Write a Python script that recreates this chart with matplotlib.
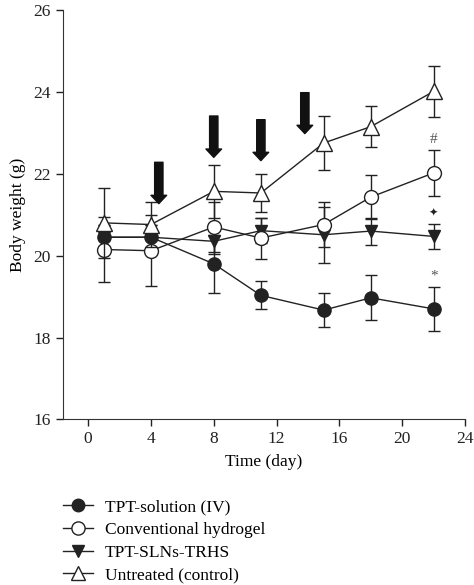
import numpy as np
import matplotlib
matplotlib.use('Agg')
import matplotlib.pyplot as plt
from matplotlib.lines import Line2D

plt.rcParams['font.family'] = ['Liberation Serif', 'DejaVu Serif']

# dias de medida
days = [1, 4, 8, 11, 15, 18, 22]

# TPT-solution (IV)
sol_mean = [20.45, 20.45, 19.80, 19.03, 18.67, 18.97, 18.70]
sol_sd = [0.30, 0.30, 0.71, 0.34, 0.41, 0.55, 0.54]
# Conventional hydrogel
gel_mean = [20.15, 20.12, 20.70, 20.43, 20.76, 21.43, 22.02]
gel_sd = [0.80, 0.87, 0.60, 0.50, 0.55, 0.53, 0.57]
# TPT-SLNs-TRHS
trhs_mean = [20.45, 20.45, 20.35, 20.61, 20.51, 20.60, 20.47]
trhs_sd = [0.30, 0.30, 0.30, 0.30, 0.68, 0.33, 0.30]
# Untreated (control)
ctrl_mean = [20.80, 20.76, 21.57, 21.53, 22.75, 23.15, 24.01]
ctrl_sd = [0.85, 0.56, 0.65, 0.47, 0.65, 0.50, 0.62]

labels = ['TPT-solution (IV)', 'Conventional hydrogel', 'TPT-SLNs-TRHS', 'Untreated (control)']

# setas de dosagem: (dia, topo, ponta)
arrows = [(4.5, 22.28, 21.27), (8.0, 23.41, 22.40), (11.0, 23.32, 22.32), (13.8, 23.98, 22.98)]

# marcas de significancia no dia 22
signif = [('#', 22.83), ('\u2726', 21.04), ('*', 19.50)]

fig = plt.figure(figsize=(4.74, 5.85), dpi=100)
ax = fig.add_axes([0.132, 0.283, 0.849, 0.700])

cor = '#222222'
# (media, sd, marcador, cor de preenchimento, tamanho, zorder, rotulo)
series = [
    (sol_mean, sol_sd, 'o', cor, 9.5, 2, labels[0]),
    (trhs_mean, trhs_sd, 'v', cor, 8.5, 3, labels[2]),
    (gel_mean, gel_sd, 'o', 'white', 10, 4, labels[1]),
    (ctrl_mean, ctrl_sd, '^', 'white', 11, 5, labels[3]),
]
handles = {}
for m, s, mk, fc, ms, z, lab in series:
    ax.errorbar(days, m, yerr=s, fmt='-' + mk, color=cor, mfc=fc, mec=cor,
                ms=ms, lw=1.0, elinewidth=1.0, capsize=4.5, capthick=1.0,
                mew=1.0, zorder=z)
    handles[lab] = Line2D([], [], color=cor, marker=mk, mfc=fc, mec=cor,
                          ms=ms - 0.5, lw=1.0, mew=1.0)

for x, top, tip in arrows:
    ax.annotate('', xy=(x, tip), xytext=(x, top),
                arrowprops=dict(arrowstyle='simple,head_length=0.4,head_width=0.75,tail_width=0.4',
                                color='#111111', shrinkA=0, shrinkB=0, mutation_scale=15),
                zorder=6)

for txt, y in signif:
    if txt == '\u2726':
        ax.text(22, y, txt, ha='center', va='center', fontsize=8, family='DejaVu Sans', color=cor)
    else:
        ax.text(22, y, txt, ha='center', va='center', fontsize=11, color='#555555')

ax.set_xlim(-1.63, 24)
ax.set_ylim(16, 26)
ax.set_xticks(np.arange(0, 25, 4))
ax.set_yticks(np.arange(16, 27, 2))
ax.spines['top'].set_visible(False)
ax.spines['right'].set_visible(False)
for sp in ['left', 'bottom']:
    ax.spines[sp].set_color('#333333')
ax.tick_params(direction='out', length=5, width=1, labelsize=12.5, colors='#222222')
ax.set_xlabel('Time (day)', fontsize=12.5, labelpad=5)
ax.set_ylabel('Body weight (g)', fontsize=12.5, labelpad=5)

leg = fig.legend([handles[l] for l in labels], labels, loc='upper left',
                 bbox_to_anchor=(0.133, 0.147), bbox_transform=fig.transFigure,
                 frameon=False, fontsize=12.5, borderpad=0, borderaxespad=0,
                 handlelength=1.7, handletextpad=0.7, labelspacing=0.38)

plt.savefig('out.png', dpi=100)
